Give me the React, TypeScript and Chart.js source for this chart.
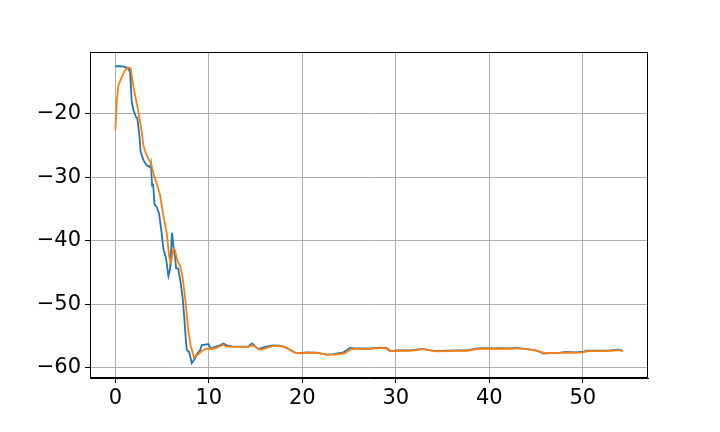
import React, { useEffect, useRef } from "react";
import { Chart, registerables } from "chart.js";
Chart.register(...registerables);

const blueX = [0, 0.3, 0.6, 0.9, 1.2, 1.4, 1.57, 1.65, 1.75, 1.93, 2.2, 2.35, 2.57, 2.7, 3.0, 3.35, 3.7, 3.8, 3.93, 4.05, 4.18, 4.42, 4.67, 4.89, 5.14, 5.42, 5.67, 5.85, 6.06, 6.2, 6.38, 6.49, 6.72, 6.95, 7.2, 7.38, 7.53, 7.64, 7.9, 8.17, 8.52, 8.7, 8.88, 9.06, 9.24, 9.6, 9.95, 10.2, 10.66, 11.2, 11.55, 11.9, 12.45, 13.3, 14.2, 14.6, 15.3, 16.2, 16.9, 17.6, 18.2, 19.2, 19.8, 20.5, 21.5, 22.6, 23.3, 24.4, 24.8, 25.1, 25.6, 26.5, 27.2, 28.3, 29.0, 29.4, 30.1, 31.5, 32.6, 33.0, 34.2, 35.5, 36.5, 37.6, 38.65, 39.5, 40.5, 41.1, 42.2, 42.9, 43.8, 44.7, 45.3, 45.8, 46.7, 47.6, 48.3, 49.2, 49.9, 50.4, 51.3, 52.2, 52.9, 53.8, 54.3];
const blueY = [-12.5, -12.5, -12.5, -12.55, -12.7, -12.9, -13.4, -15.5, -18.1, -19.4, -20.5, -20.7, -23.4, -26, -27.3, -28.1, -28.4, -27.8, -31.3, -31.2, -34.2, -34.7, -35.7, -38.1, -41.3, -42.8, -45.6, -44.5, -38.75, -40.8, -42.5, -44.3, -44.4, -46.3, -49.1, -52.3, -55.5, -57.2, -57.6, -59.3, -58.6, -57.9, -57.55, -57.3, -56.45, -56.4, -56.3, -57.0, -56.75, -56.5, -56.2, -56.5, -56.65, -56.7, -56.7, -56.2, -57.1, -56.65, -56.5, -56.55, -56.8, -57.65, -57.7, -57.6, -57.65, -57.95, -57.9, -57.6, -57.2, -56.9, -57.0, -57.0, -57.0, -56.85, -56.95, -57.45, -57.3, -57.3, -57.1, -57.1, -57.4, -57.35, -57.3, -57.3, -57.0, -56.95, -57.0, -56.95, -57.0, -56.9, -57.05, -57.2, -57.45, -57.8, -57.7, -57.65, -57.55, -57.6, -57.55, -57.35, -57.35, -57.35, -57.3, -57.2, -57.35];

const orangeX = [0, 0.15, 0.32, 0.68, 1.04, 1.4, 1.65, 1.75, 1.93, 2.1, 2.46, 2.82, 3.0, 3.18, 3.53, 3.82, 4.07, 4.42, 4.78, 5.13, 5.5, 5.75, 5.95, 6.2, 6.38, 6.6, 6.92, 7.1, 7.3, 7.53, 7.8, 8.06, 8.42, 8.7, 9.24, 9.78, 10.3, 10.8, 11.55, 11.9, 12.5, 13.3, 14.2, 14.65, 15.5, 16.2, 16.9, 17.6, 18.3, 19.3, 19.9, 20.6, 21.6, 22.7, 23.4, 24.5, 25.2, 25.7, 26.6, 27.3, 28.4, 29.1, 29.5, 30.2, 31.5, 32.7, 33.1, 34.3, 35.6, 36.6, 37.7, 38.75, 39.6, 40.6, 41.2, 42.3, 43.0, 43.9, 44.8, 45.4, 45.9, 46.8, 47.7, 48.4, 49.3, 50.0, 50.5, 51.4, 52.3, 53.0, 53.9, 54.3];
const orangeY = [-22.6, -18.1, -15.5, -14.2, -13.1, -12.7, -12.85, -13.9, -15.7, -17.0, -19.7, -22.8, -25.0, -25.9, -27.1, -27.85, -29.4, -31.0, -32.8, -36.0, -38.9, -42.5, -43.5, -41.3, -41.5, -43.0, -44.0, -45.0, -47.0, -50.0, -54.2, -56.6, -58.45, -58.1, -57.4, -57.0, -57.1, -56.9, -56.4, -56.7, -56.75, -56.75, -56.75, -56.5, -57.2, -56.9, -56.6, -56.6, -56.9, -57.7, -57.75, -57.65, -57.7, -58.0, -57.95, -57.75, -57.1, -57.05, -57.05, -57.05, -56.9, -57.0, -57.4, -57.35, -57.35, -57.15, -57.15, -57.45, -57.4, -57.35, -57.35, -57.05, -57.0, -57.05, -57.0, -57.05, -56.95, -57.1, -57.25, -57.5, -57.75, -57.7, -57.7, -57.6, -57.65, -57.6, -57.4, -57.4, -57.4, -57.35, -57.25, -57.4];

const xTicks = [0, 10, 20, 30, 40, 50];
const yTicks = [-60, -50, -40, -30, -20];

const fmt = (v: number) => String(v).replace("-", "\u2212");

const framePlugin = {
  id: "frame",
  afterDraw(chart: any) {
    const { ctx, chartArea } = chart;
    ctx.save();
    ctx.strokeStyle = "#000";
    ctx.lineWidth = 1;
    ctx.beginPath();
    ctx.rect(Math.round(chartArea.left) + 0.5, Math.round(chartArea.top) + 0.5, Math.round(chartArea.right - chartArea.left) - 1, Math.round(chartArea.bottom - chartArea.top) - 1);
    ctx.stroke();
    ctx.restore();
  },
};

export default function App() {
  const ref = useRef<HTMLCanvasElement>(null);
  useEffect(() => {
    const font = { family: "DejaVu Sans", size: 21 };
    const chart = new Chart(ref.current!, {
      type: "line",
      data: {
        datasets: [
          {
            data: blueX.map((x, i) => ({ x, y: blueY[i] })),
            borderColor: "#1f77b4",
            borderWidth: 1.8,
            pointRadius: 0,
            tension: 0,
            order: 1,
          },
          {
            data: orangeX.map((x, i) => ({ x, y: orangeY[i] })),
            borderColor: "#ff7f0e",
            borderWidth: 1.8,
            pointRadius: 0,
            tension: 0,
            order: 0,
          },
        ],
      },
      options: {
        animation: false,
        responsive: false,
        devicePixelRatio: 1,
        layout: { padding: { left: 0, top: 52, right: 72, bottom: 0 } },
        plugins: { legend: { display: false }, tooltip: { enabled: false } },
        scales: {
          x: {
            type: "linear",
            min: -2.715,
            max: 56.97,
            afterBuildTicks: (s: any) => {
              s.ticks = xTicks.map((v) => ({ value: v }));
            },
            afterFit: (s: any) => {
              s.height = 54;
            },
            grid: { color: "#b0b0b0", lineWidth: 1, tickColor: "#000", tickLength: 5, drawTicks: true },
            border: { display: true, color: "#000", width: 1 },
            ticks: { font, color: "#000", padding: 3, maxRotation: 0, callback: (v: any) => fmt(v) },
          },
          y: {
            type: "linear",
            min: -61.65,
            max: -10.25,
            afterBuildTicks: (s: any) => {
              s.ticks = yTicks.map((v) => ({ value: v }));
            },
            afterFit: (s: any) => {
              s.width = 90;
            },
            grid: { color: "#b0b0b0", lineWidth: 1, tickColor: "#000", tickLength: 5, drawTicks: true },
            border: { display: true, color: "#000", width: 1 },
            ticks: { font, color: "#000", padding: 4, callback: (v: any) => fmt(v) },
          },
        },
      },
      plugins: [framePlugin],
    } as any);
    return () => chart.destroy();
  }, []);
  return (
    <div style={{ position: "absolute", left: 0, top: 0, width: 720, height: 432, background: "#fff" }}>
      <canvas ref={ref} width={720} height={432} />
    </div>
  );
}
